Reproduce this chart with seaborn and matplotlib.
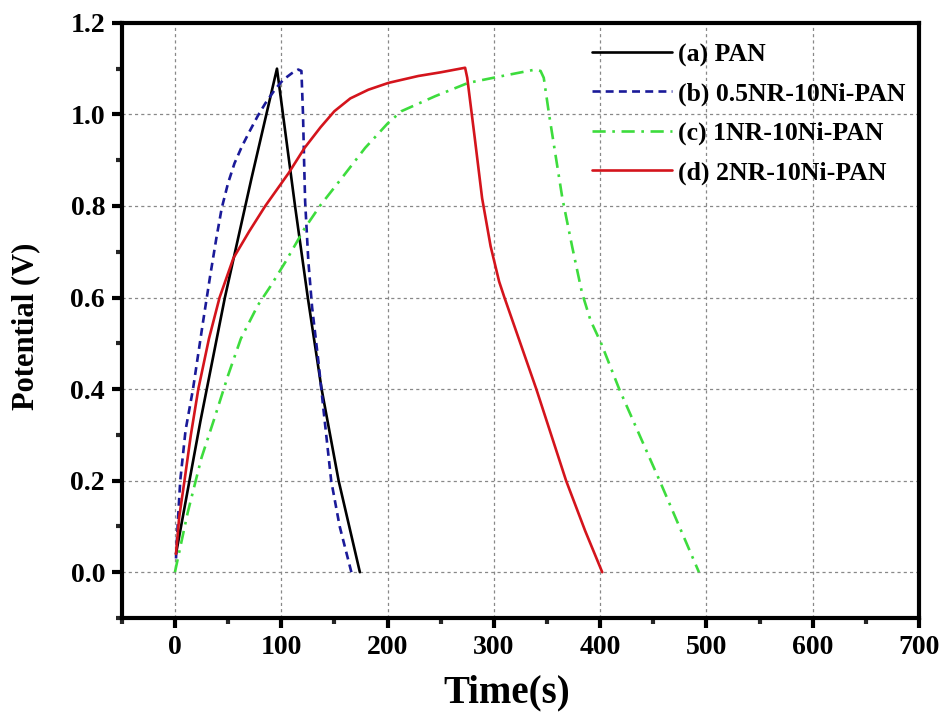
import numpy as np
import pandas as pd
import matplotlib
matplotlib.use("Agg")
import matplotlib.pyplot as plt
from matplotlib.ticker import MultipleLocator
import seaborn as sns

# ---- data ----
labels = ["(a) PAN", "(b) 0.5NR-10Ni-PAN", "(c) 1NR-10Ni-PAN", "(d) 2NR-10Ni-PAN"]

t_a = [1, 24, 47, 72, 96, 113, 125, 138, 154, 174]
v_a = [0.04, 0.33, 0.60, 0.86, 1.10, 0.80, 0.60, 0.40, 0.20, 0.00]

t_b = [1, 3, 5, 10, 17, 26, 33, 39, 44, 50, 56, 63, 70, 78, 85, 94, 102, 110, 116, 119, 120.5, 121.5, 122.5, 125.5, 129, 135, 140, 147, 155, 166]
v_b = [0.03, 0.12, 0.20, 0.31, 0.40, 0.54, 0.645, 0.73, 0.795, 0.85, 0.893, 0.93, 0.962, 0.997, 1.024, 1.054, 1.076, 1.09, 1.098, 1.095, 1.00, 0.90, 0.81, 0.68, 0.58, 0.46, 0.35, 0.20, 0.10, 0.00]

t_c = [0, 12, 25, 37, 50, 62, 78, 90, 104, 122, 137, 157, 179, 200, 213, 245, 276, 308, 339, 344, 347, 352, 364.5, 374, 383, 391, 401, 418, 456, 493]
v_c = [0.00, 0.13, 0.25, 0.335, 0.43, 0.51, 0.583, 0.625, 0.678, 0.751, 0.802, 0.861, 0.927, 0.98, 1.007, 1.040, 1.069, 1.084, 1.098, 1.095, 1.08, 1.00, 0.817, 0.708, 0.61, 0.55, 0.50, 0.40, 0.20, 0.00]

t_d = [1, 4, 9, 15, 22, 32, 42, 55, 70, 85, 107, 122, 137, 150, 165, 182, 201, 229, 250, 273, 275, 282, 289, 297, 305, 310, 340, 368, 386, 402]
v_d = [0.04, 0.12, 0.20, 0.30, 0.40, 0.51, 0.60, 0.686, 0.745, 0.80, 0.872, 0.927, 0.972, 1.007, 1.035, 1.054, 1.069, 1.084, 1.092, 1.102, 1.08, 0.95, 0.817, 0.712, 0.635, 0.60, 0.40, 0.20, 0.09, 0.00]

x_ticks = [0, 100, 200, 300, 400, 500, 600, 700]
y_ticks = [0.0, 0.2, 0.4, 0.6, 0.8, 1.0, 1.2]

colors = ["#000000", "#1a1a99", "#3ddc3d", "#d4141c"]

frames = []
for lab, t, v in zip(labels, [t_a, t_b, t_c, t_d], [v_a, v_b, v_c, v_d]):
    frames.append(pd.DataFrame({"Time": t, "V": v, "sample": lab}))
df = pd.concat(frames, ignore_index=True)

# ---- plot ----
sns.set_theme(style="white")
plt.rcParams["font.family"] = ["Liberation Serif", "DejaVu Serif"]
plt.rcParams["font.weight"] = "bold"
plt.rcParams["text.color"] = "black"
plt.rcParams["axes.labelcolor"] = "black"

fig = plt.figure(figsize=(9.44, 7.15), dpi=100)
ax = fig.add_axes([0.129, 0.1357, 0.8445, 0.8323])

palette = dict(zip(labels, colors))
dashes = dict(zip(labels, ["", (3, 2), (5, 2.5, 1, 2.5), ""]))
sns.lineplot(data=df, x="Time", y="V", hue="sample", style="sample",
             palette=palette, dashes=dashes, sort=False, estimator=None,
             linewidth=1.9, ax=ax)

ax.set_xlim(-50, 700)
ax.set_ylim(-0.1, 1.2)
ax.set_xticks(x_ticks)
ax.set_yticks(y_ticks)
ax.set_xticklabels([str(x) for x in x_ticks])
ax.set_yticklabels([f"{y:.1f}" for y in y_ticks])
ax.xaxis.set_minor_locator(MultipleLocator(50))
ax.yaxis.set_minor_locator(MultipleLocator(0.1))

ax.grid(True, which="major", color="#888888", linestyle=(0, (2.5, 2.5)), linewidth=0.9)
ax.set_axisbelow(True)

for s in ax.spines.values():
    s.set_linewidth(3)
    s.set_color("black")

ax.tick_params(axis="both", which="major", direction="out", length=7, width=3,
               labelsize=20, colors="black", pad=5, bottom=True, left=True)
ax.tick_params(axis="both", which="minor", direction="out", length=4, width=3,
               bottom=True, left=True)
for lbl in ax.get_xticklabels() + ax.get_yticklabels():
    lbl.set_fontweight("bold")

ax.set_xlabel("Time(s)", fontsize=28, fontweight="bold", va="center")
ax.set_ylabel("Potential (V)", fontsize=22, fontweight="bold", va="center")
ax.xaxis.set_label_coords(0.483, -0.126)
ax.yaxis.set_label_coords(-0.12, 0.49)

leg = ax.legend(loc="upper left", bbox_to_anchor=(0.5897, 0.966), frameon=False,
                fontsize=18.5, handlelength=3.1, handletextpad=0.25,
                labelspacing=0.62, borderaxespad=0, borderpad=0)
for txt in leg.get_texts():
    txt.set_fontweight("bold")
    txt.set_color("black")
for h in leg.get_lines():
    h.set_linewidth(1.9)

fig.savefig("out.png", dpi=100, facecolor="white")
